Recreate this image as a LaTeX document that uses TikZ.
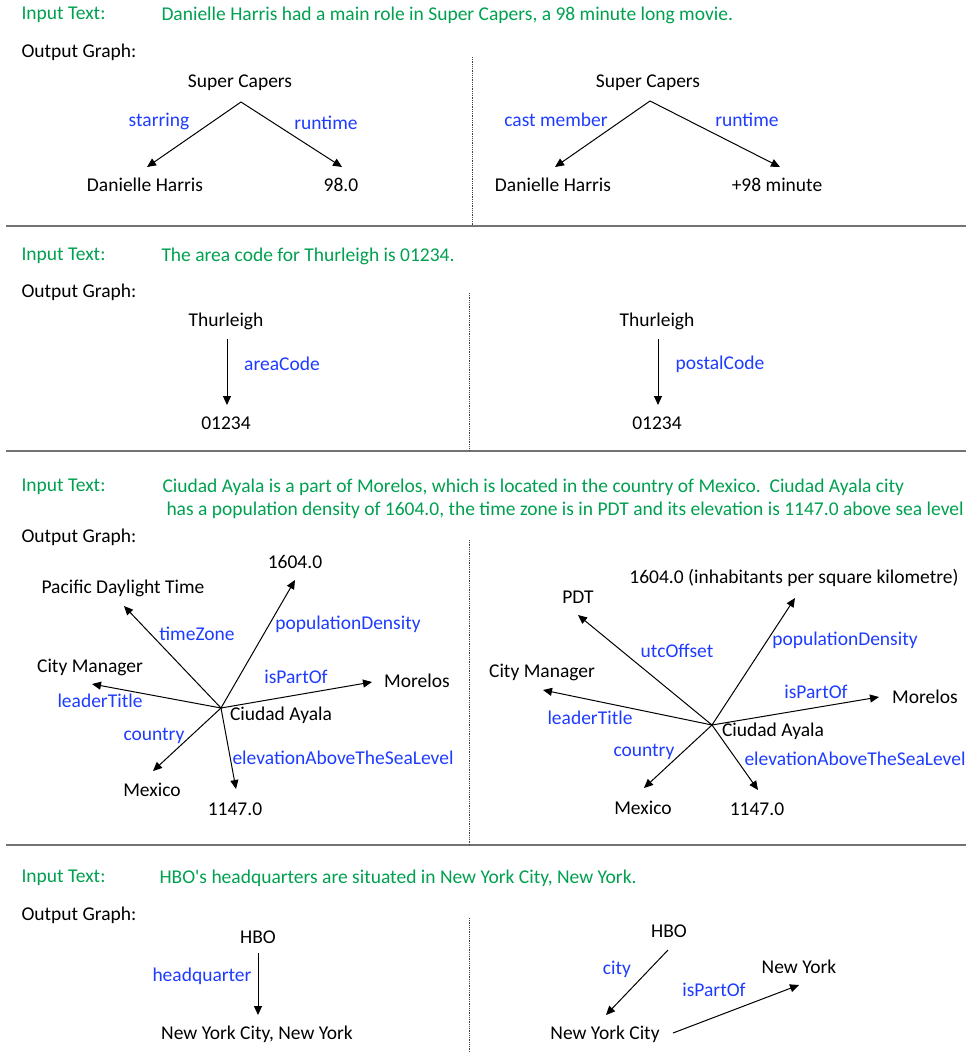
\documentclass[tikz,border=0pt]{standalone}
\usepackage{fontspec}
\setmainfont{Carlito}
\usetikzlibrary{arrows.meta}

\definecolor{textgreen}{RGB}{0,160,80}
\definecolor{relblue}{RGB}{30,60,255}

\begin{document}
\begin{tikzpicture}
% Style
[
    x=1pt, y=-1pt, line width=1pt,
    font=\fontsize{19.5}{23}\selectfont,
    every node/.style={inner sep=1pt},
    rel/.style={text=relblue},
    head/.style={anchor=west, text=textgreen},
    arr/.style={-{Triangle[length=9pt, width=8pt]}},
    sep/.style={draw=black!55, line width=1.5pt},
    split/.style={draw=black!75, densely dotted, line width=.8pt}
]
\useasboundingbox (0,0) rectangle (966,1053);

%=================================== Frame ===================================
{
    \foreach \y in {226,451,845} {
        \draw[sep] (6,\y) -- (966,\y);
    }
    \foreach \x/\ya/\yb in {472/57/226, 469/293/451, 469/540/845, 469/918/1053} {
        \draw[split] (\x,\ya) -- (\x,\yb);
    }
    \foreach \i/\ya/\yb in {1/15/52, 2/256/292, 3/487/537, 4/878/915} {
        \node[head] (in-\i) at (20,\ya) {Input Text:};
        \node[anchor=west] (out-\i) at (20,\yb) {Output Graph:};
    }
    \node[head] (txt-1) at (160,15) {Danielle Harris had a main role in Super Capers, a 98 minute long movie.};
    \node[head] (txt-2) at (160,256) {The area code for Thurleigh is 01234.};
    \node[head] (txt-3a) at (161,487) {Ciudad Ayala is a part of Morelos, which is located in the country of Mexico.\ \ Ciudad Ayala city};
    \node[head] (txt-3b) at (165,510) {has a population density of 1604.0, the time zone is in PDT and its elevation is 1147.0 above sea level};
    \node[head] (txt-4) at (158,878) {HBO\textquotesingle s headquarters are situated in New York City, New York.};
}

%=================================== Nodes ===================================
{
    \foreach \n/\x/\y/\t in {
        scL/240/83/{Super Capers}, dhL/145/185/{Danielle Harris}, rtL/341/185/{98.0},
        scR/648/83/{Super Capers}, dhR/553/185/{Danielle Harris}, rtR/777/185/{+98 minute},
        thL/226/321/{Thurleigh}, acL/226/423/{01234},
        thR/657/321/{Thurleigh}, acR/657/423/{01234},
        caL/281/715/{Ciudad Ayala}, pdL/295/562/{1604.0}, tzL/123/588/{Pacific Daylight Time},
        cmL/90/667/{City Manager}, moL/417/681/{Morelos}, mxL/152/790/{Mexico}, elL/235/809/{1147.0},
        caR/773/731/{Ciudad Ayala}, pdR/794/578/{1604.0 (inhabitants per square kilometre)}, tzR/578/597/{PDT},
        cmR/542/672/{City Manager}, moR/925/697/{Morelos}, mxR/643/808/{Mexico}, elR/757/809/{1147.0},
        hbL/258/937/{HBO}, nyL/257/1034/{New York City, New York},
        hbR/669/931/{HBO}, ncR/605/1034/{New York City}, nsR/799/967/{New York}
    } {
        \node (\n) at (\x,\y) {\t};
    }

    \foreach \n/\x/\y/\t in {
        st-1/159/121/{starring}, rt-1/326/123/{runtime},
        cm-1/556/120/{cast member}, rt-2/747/120/{runtime},
        ac-1/282/364/{areaCode}, pc-1/720/364/{postalCode},
        tz-1/197/634/{timeZone}, pd-1/348/624/{populationDensity}, ip-1/296/677/{isPartOf},
        lt-1/100/701/{leaderTitle}, co-1/154/736/{country}, el-1/343/758/{elevationAboveTheSeaLevel},
        uo-2/677/651/{utcOffset}, pd-2/845/640/{populationDensity}, ip-2/816/692/{isPartOf},
        lt-2/590/718/{leaderTitle}, co-2/644/752/{country}, el-2/855/759/{elevationAboveTheSeaLevel},
        hq-1/202/976/{headquarter}, ci-2/617/969/{city}, ip-3/714/990/{isPartOf}
    } {
        \node[rel] (\n) at (\x,\y) {\t};
    }
}

%=================================== Edges ===================================
{
    \coordinate (hubL) at ([shift={(-60,-7)}]caL.center);
    \coordinate (hubR) at ([shift={(-61,-6)}]caR.center);

    \foreach \a/\ax/\ay/\b/\bx/\by in {
        scL/1/19/dhL/2/-18, scL/1/19/rtL/1/-18,
        scR/2/18/dhR/2/-18, scR/2/18/rtR/3/-18,
        thL/1/18/acL/1/-18, thR/1/18/acR/1/-18,
        hbL/0/16/nyL/1/-19, hbR/-1/19/ncR/1/-19, ncR/68/-1/nsR/0/18
    } {
        \draw[arr] ([shift={(\ax,\ay)}]\a.center) -- ([shift={(\bx,\by)}]\b.center);
    }
    \foreach \h/\b/\bx/\by in {
        hubL/pdL/0/18, hubL/tzL/1/18, hubL/cmL/2/17, hubL/moL/-45/1, hubL/mxL/1/-19, hubL/elL/1/-20,
        hubR/pdR/1/20, hubR/tzR/0/18, hubR/cmR/1/18, hubR/moR/-46/0, hubR/mxR/1/-20, hubR/elR/1/-19
    } {
        \draw[arr] (\h) -- ([shift={(\bx,\by)}]\b.center);
    }
}
%==================================== END ====================================

\end{tikzpicture}
\end{document}
